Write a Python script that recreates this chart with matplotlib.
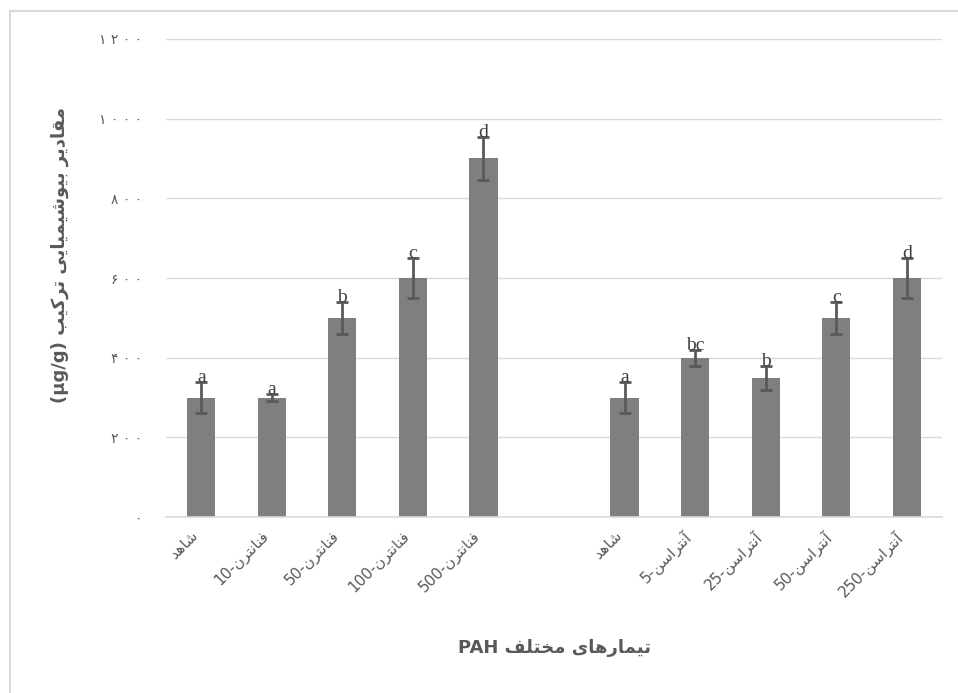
import numpy as np
import matplotlib
matplotlib.use("Agg")
import matplotlib.pyplot as plt
from matplotlib.patches import Rectangle

# Persian letters -> (isolated, final, initial, medial); two-form letters do not join to the left
FORMS = {
    'ا': ('\uFE8D', '\uFE8E'), 'آ': ('\uFE81', '\uFE82'),
    'د': ('\uFEA9', '\uFEAA'), 'ر': ('\uFEAD', '\uFEAE'), 'و': ('\uFEED', '\uFEEE'),
    'ب': ('\uFE8F', '\uFE90', '\uFE91', '\uFE92'),
    'ت': ('\uFE95', '\uFE96', '\uFE97', '\uFE98'),
    'خ': ('\uFEA5', '\uFEA6', '\uFEA7', '\uFEA8'),
    'س': ('\uFEB1', '\uFEB2', '\uFEB3', '\uFEB4'),
    'ش': ('\uFEB5', '\uFEB6', '\uFEB7', '\uFEB8'),
    'ف': ('\uFED1', '\uFED2', '\uFED3', '\uFED4'),
    'ق': ('\uFED5', '\uFED6', '\uFED7', '\uFED8'),
    'ک': ('\uFB8E', '\uFB8F', '\uFB90', '\uFB91'),
    'ل': ('\uFEDD', '\uFEDE', '\uFEDF', '\uFEE0'),
    'م': ('\uFEE1', '\uFEE2', '\uFEE3', '\uFEE4'),
    'ن': ('\uFEE5', '\uFEE6', '\uFEE7', '\uFEE8'),
    'ه': ('\uFEE9', '\uFEEA', '\uFEEB', '\uFEEC'),
    'ی': ('\uFBFC', '\uFBFD', '\uFBFE', '\uFBFF'),
}


def shape_word(w):
    out = []
    for i, ch in enumerate(w):
        f = FORMS[ch]
        prev = w[i - 1] if i > 0 else None
        nxt = w[i + 1] if i + 1 < len(w) else None
        join_prev = prev is not None and len(FORMS[prev]) == 4
        join_next = nxt is not None and len(f) == 4
        if join_prev and join_next:
            out.append(f[3])
        elif join_prev:
            out.append(f[1])
        elif join_next:
            out.append(f[2])
        else:
            out.append(f[0])
    return ''.join(out[::-1])


def fa(text):
    # visual order for a line of Persian words (right to left)
    return ' '.join(shape_word(w) for w in text.split()[::-1])


def fa_digits(n):
    s = str(n).translate(str.maketrans('0123456789', '۰۱۲۳۴۵۶۷۸۹'))
    return ' '.join(s)


# data
labels = ['شاهد', 'فنانترن-10', 'فنانترن-50', 'فنانترن-100', 'فنانترن-500', '',
          'شاهد', 'آنتراسن-5', 'آنتراسن-25', 'آنتراسن-50', 'آنتراسن-250']
values = [300, 300, 500, 600, 900, np.nan, 300, 400, 350, 500, 600]
errors = [40, 10, 40, 50, 55, np.nan, 40, 20, 30, 40, 50]
letters = ['a', 'a', 'b', 'c', 'd', '', 'a', 'bc', 'b', 'c', 'd']
yticks = [0, 200, 400, 600, 800, 1000, 1200]


def tick_label(s):
    if '-' in s:
        word, num = s.split('-')
        return num + '-' + shape_word(word)
    return shape_word(s) if s else ''


fig = plt.figure(figsize=(9.58, 6.93), dpi=100)
fig.patches.append(Rectangle((10 / 958, -0.1), 1.2, 1 - 11 / 693 + 0.1,
                             transform=fig.transFigure, fill=False,
                             edgecolor='#d9d9d9', linewidth=1.5))
ax = fig.add_axes([166 / 958, 1 - 517 / 693, 776 / 958, 478 / 693])

x = np.arange(len(labels))
ax.bar(x, values, width=0.4, color='#7f7f7f', zorder=2)
ax.errorbar(x, values, yerr=errors, fmt='none', ecolor='#595959',
            elinewidth=2, capsize=4.5, capthick=2, zorder=3)
for xi, v, e, t in zip(x, values, errors, letters):
    if t:
        ax.annotate(t, (xi, v + e), xytext=(0, -3), textcoords='offset points',
                    ha='center', va='bottom', fontsize=14, color='#404040',
                    family='Liberation Serif', zorder=4)

ax.set_xlim(-0.5, len(labels) - 0.5)
ax.set_ylim(0, 1200)
ax.set_yticks(yticks)
ax.set_yticklabels([fa_digits(v) for v in yticks], fontsize=10, color='#595959')
ax.set_xticks(x)
ax.set_xticklabels([tick_label(s) for s in labels], rotation=45, ha='right',
                   fontsize=11, color='#595959')
ax.tick_params(axis='both', length=0)
ax.tick_params(axis='y', pad=17)
ax.tick_params(axis='x', pad=8)
ax.grid(axis='y', color='#d9d9d9', linewidth=1, zorder=0)
for s in ['top', 'right', 'left']:
    ax.spines[s].set_visible(False)
ax.spines['bottom'].set_color('#d9d9d9')
ax.spines['bottom'].set_linewidth(1.2)

fig.text(554 / 958, 1 - 648 / 693, 'PAH ' + fa('تیمارهای مختلف'), ha='center',
         va='center', fontsize=13, fontweight='bold', color='#595959')
fig.text(60 / 958, 1 - 255 / 693, '(µg/g) ' + fa('مقادیر بیوشیمیایی ترکیب'),
         rotation=90, ha='center', va='center', fontsize=13,
         fontweight='bold', color='#595959')

fig.savefig('out.png', dpi=100)
